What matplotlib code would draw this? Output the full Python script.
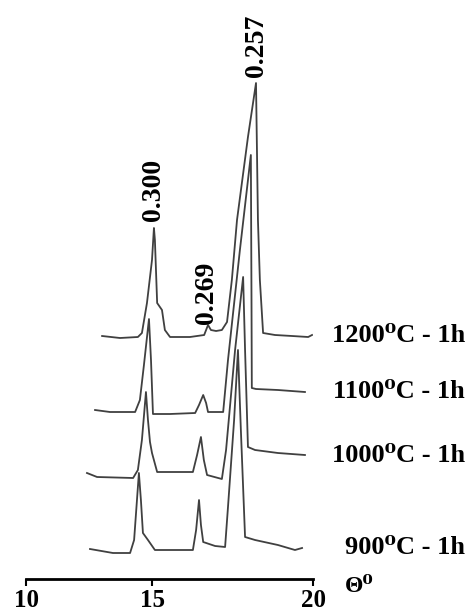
import numpy as np
import matplotlib
matplotlib.use('Agg')
import matplotlib.pyplot as plt
from matplotlib.transforms import blended_transform_factory

plt.rcParams['font.family'] = ['Liberation Serif', 'DejaVu Serif']
plt.rcParams['font.weight'] = 'bold'

# Diffraction angle (theta, deg) and intensity (a.u., above each baseline)
theta_1200 = [13.02, 13.73, 14.44, 14.60, 14.80, 15.00, 15.06, 15.09, 15.16, 15.31, 15.40, 15.56,
              16.18, 16.62, 16.74, 16.83, 16.99, 17.17, 17.33, 17.48, 17.64, 17.98, 18.23, 18.29,
              18.35, 18.45, 18.82, 19.35, 19.85, 19.97]
int_1200 = [1, -1, 0, 4, 34, 77, 109, 97, 34, 27, 7, 0,
            0, 2, 12, 7, 6, 7, 15, 57, 117, 200, 254, 117,
            57, 4, 2, 1, 0, 2]

theta_1100 = [12.74, 13.33, 14.33, 14.52, 14.68, 14.88, 14.96, 15.03, 15.56, 16.34, 16.46, 16.59,
              16.68, 16.74, 17.21, 17.36, 17.73, 18.07, 18.09, 18.10, 18.23, 18.91, 19.75]
int_1100 = [2, 0, 0, 12, 47, 93, 52, -2, -2, -1, 7, 17,
            9, 0, 0, 52, 162, 257, 112, 24, 23, 22, 20]

theta_1000 = [12.42, 12.82, 14.25, 14.44, 14.60, 14.76, 14.84, 14.92, 15.00, 15.16, 15.71, 16.27,
              16.40, 16.52, 16.61, 16.71, 17.17, 17.30, 17.58, 17.83, 17.89, 17.98, 18.20, 18.91, 19.75]
int_1000 = [4, 0, -1, 7, 37, 85, 57, 35, 24, 5, 5, 5,
            22, 40, 17, 2, -2, 27, 127, 200, 127, 30, 27, 24, 22]

theta_900 = [12.54, 13.45, 14.13, 14.29, 14.48, 14.56, 14.64, 14.84, 15.09, 15.71, 16.27, 16.37,
             16.46, 16.52, 16.59, 16.96, 17.27, 17.36, 17.55, 17.67, 17.76, 17.89, 18.20, 18.91,
             19.44, 19.66]
int_900 = [1, -3, -3, 10, 77, 50, 17, 10, 0, 0, 0, 20,
           50, 25, 8, 4, 3, 43, 130, 200, 120, 13, 10, 5,
           0, 2]

labels = ['1200', '1100', '1000', '900']
offsets = [242, 167, 102, 29]
curves = [(theta_1200, int_1200), (theta_1100, int_1100),
          (theta_1000, int_1000), (theta_900, int_900)]

# interplanar spacings (nm) marked on the top pattern
peak_theta = [15.06, 16.74, 18.23]
peak_d = ['0.300', '0.269', '0.257']


# the printed axis is not uniform: 10-15 is shorter than 15-20
def fwd(t):
    t = np.asarray(t, dtype=float)
    return np.where(t < 15, (t - 10) * 126 / 5, 126 + (t - 15) * 161 / 5)


def inv(u):
    u = np.asarray(u, dtype=float)
    return np.where(u < 126, 10 + u * 5 / 126, 15 + (u - 126) * 5 / 161)


fig = plt.figure(figsize=(4.69, 6.12), dpi=100)
ax = fig.add_axes([26 / 469, 33 / 612, 287 / 469, 579 / 612])
ax.set_xscale('function', functions=(fwd, inv))

line_color = '#404040'
for (th, inten), off in zip(curves, offsets):
    ax.plot(th, np.array(inten) + off, color=line_color, lw=1.3)

# d-spacing labels over the 1200 C pattern
top_th, top_int = curves[0]
label_shift = [(0, 5), (-1, 1), (0, 4)]
for th, d, sh in zip(peak_theta, peak_d, label_shift):
    y = np.interp(th, top_th, top_int) + offsets[0]
    ax.annotate(d, xy=(th, y), xytext=sh, textcoords='offset points',
                rotation=90, ha='center', va='bottom', fontsize=20, fontweight='bold')

# sample labels at the right edge, level with the end of each pattern
trans = blended_transform_factory(fig.transFigure, ax.transData)
for lab, (th, inten), off in zip(labels, curves, offsets):
    ax.text(0.992, inten[-1] + off, lab + '\u2070C - 1h', transform=trans,
            ha='right', va='center', fontsize=19, fontweight='bold', clip_on=False)

fig.text(0.735, (612 - 586) / 612, '\u0398\u2070', ha='left', va='center',
         fontsize=17, fontweight='bold')

ax.set_xlim(10, 20)
ax.set_ylim(0, 579)
ax.set_xticks([10, 15, 20])
ax.set_xticklabels(['10', '15', '20'])
ax.tick_params(axis='x', direction='out', length=5, width=1.5, labelsize=18, pad=2)
ax.set_yticks([])
for s in ['top', 'left', 'right']:
    ax.spines[s].set_visible(False)
ax.spines['bottom'].set_linewidth(2)
ax.patch.set_alpha(0)

fig.savefig('out.png', dpi=100)
